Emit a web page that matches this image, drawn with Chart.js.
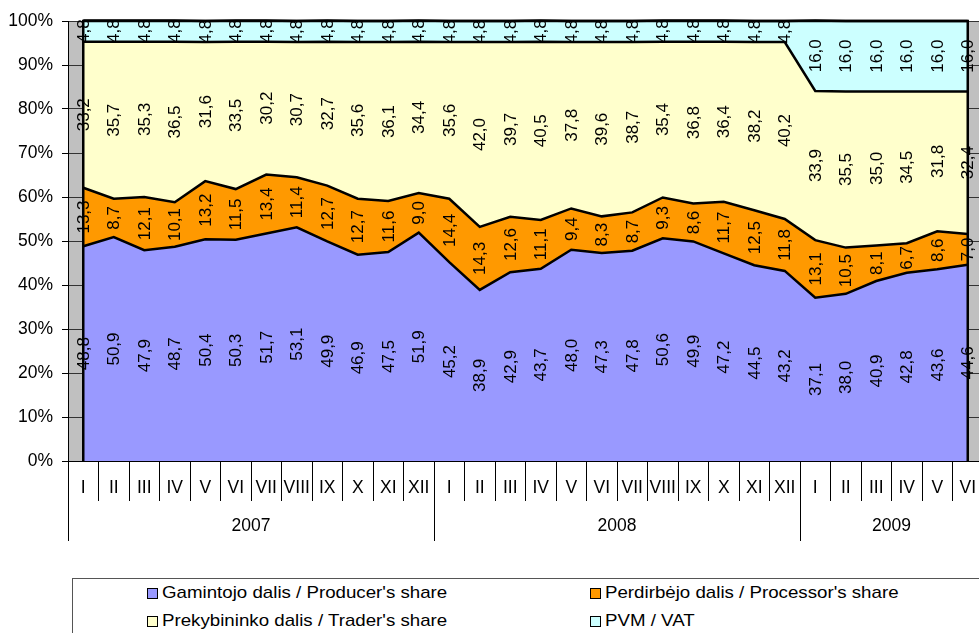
<!DOCTYPE html>
<html><head><meta charset="utf-8">
<script src="https://cdn.jsdelivr.net/npm/chart.js@4"></script>
<style>
html,body{margin:0;padding:0;background:#fff;overflow:hidden;}
#wrap{position:relative;width:979px;height:633px;overflow:hidden;background:#fff;}
#c{position:absolute;left:0;top:0;}
#legend{position:absolute;left:72px;top:578px;width:940px;height:60px;border:1px solid #555;box-sizing:border-box;font-family:"Liberation Sans",Arial,sans-serif;font-size:17px;color:#000;}
.item{position:absolute;height:20px;display:flex;align-items:center;white-space:nowrap;}
.sw{width:9px;height:9px;border:1.5px solid #000;margin-right:4px;flex:none;}
.tx{display:inline-block;transform:scaleX(1.1);transform-origin:0 50%;}
</style></head><body>
<div id="wrap"><canvas id="c" width="995" height="560"></canvas><div id="legend"></div></div>
<script>
const months = ['I','II','III','IV','V','VI','VII','VIII','IX','X','XI','XII',
                'I','II','III','IV','V','VI','VII','VIII','IX','X','XI','XII',
                'I','II','III','IV','V','VI'];
const years = ['2007','2008','2009'];
const monthsPerYear = [12,12,6];
const yTicks = [0,10,20,30,40,50,60,70,80,90,100];
const seriesNames = ["Gamintojo dalis / Producer's share","Perdirbėjo dalis / Processor's share","Prekybininko dalis / Trader's share","PVM / VAT"];
const producer = [48.8,50.9,47.9,48.7,50.4,50.3,51.7,53.1,49.9,46.9,47.5,51.9,
                  45.2,38.9,42.9,43.7,48.0,47.3,47.8,50.6,49.9,47.2,44.5,43.2,
                  37.1,38.0,40.9,42.8,43.6,44.6];
const processor = [13.3,8.7,12.1,10.1,13.2,11.5,13.4,11.4,12.7,12.7,11.6,9.0,
                   14.4,14.3,12.6,11.1,9.4,8.3,8.7,9.3,8.6,11.7,12.5,11.8,
                   13.1,10.5,8.1,6.7,8.6,7.0];
const trader = [33.2,35.7,35.3,36.5,31.6,33.5,30.2,30.7,32.7,35.6,36.1,34.4,
                35.6,42.0,39.7,40.5,37.8,39.6,38.7,35.4,36.8,36.4,38.2,40.2,
                33.9,35.5,35.0,34.5,31.8,32.4];
const vat = [4.8,4.8,4.8,4.8,4.8,4.8,4.8,4.8,4.8,4.8,4.8,4.8,
             4.8,4.8,4.8,4.8,4.8,4.8,4.8,4.8,4.8,4.8,4.8,4.8,
             16.0,16.0,16.0,16.0,16.0,16.0];

const seriesData = [producer, processor, trader, vat];
const colors = ['#9999FF','#FF9900','#FFFFCC','#CCFFFF'];
const FONT = '"Liberation Sans", Arial, sans-serif';

// year axis tick positions (boundaries + centers) from monthsPerYear
const yearBounds = [-0.5];
const yearCenters = [];
monthsPerYear.forEach(n => {
  const start = yearBounds[yearBounds.length-1];
  yearCenters.push(start + n/2);
  yearBounds.push(start + n);
});
const x2Ticks = [...yearBounds, ...yearCenters].sort((a,b)=>a-b);

const bgPlugin = {
  id: 'plotBg',
  beforeDraw(chart) {
    const a = chart.chartArea, ctx = chart.ctx;
    ctx.save();
    ctx.fillStyle = '#C0C0C0';
    ctx.fillRect(a.left, a.top, a.right - a.left, a.bottom - a.top);
    ctx.restore();
  }
};

const labelPlugin = {
  id: 'valLabels',
  afterDatasetsDraw(chart) {
    const ctx = chart.ctx, ys = chart.scales.y;
    const m0 = chart.getDatasetMeta(0).data;
    const n = m0.length;
    // outline edges of the area block (left, right, top)
    ctx.save();
    ctx.strokeStyle = '#000';
    ctx.lineWidth = 2.5;
    ctx.beginPath();
    ctx.moveTo(m0[0].x, ys.getPixelForValue(0));
    ctx.lineTo(m0[0].x, ys.getPixelForValue(100));
    ctx.lineTo(m0[n-1].x, ys.getPixelForValue(100));
    ctx.lineTo(m0[n-1].x, ys.getPixelForValue(0));
    ctx.stroke();
    ctx.restore();
    ctx.save();
    ctx.fillStyle = '#000';
    ctx.font = '17px ' + FONT;
    ctx.textAlign = 'center';
    ctx.textBaseline = 'middle';
    for (let j = 0; j < n; j++) {
      let cum = 0;
      seriesData.forEach((arr) => {
        const v = arr[j];
        const yc = (ys.getPixelForValue(cum) + ys.getPixelForValue(cum + v)) / 2;
        cum += v;
        ctx.save();
        ctx.translate(m0[j].x, yc);
        ctx.rotate(-Math.PI/2);
        ctx.fillText(v.toFixed(1).replace('.', ','), 0, 1);
        ctx.restore();
      });
    }
    ctx.restore();
  }
};

const chart = new Chart(document.getElementById('c'), {
  type: 'line',
  data: {
    labels: months,
    datasets: seriesData.map((d, i) => ({
      label: seriesNames[i],
      data: d,
      backgroundColor: colors[i],
      borderColor: '#000',
      borderWidth: 2.5,
      pointRadius: 0,
      tension: 0,
      clip: 4,
      fill: i === 0 ? 'origin' : '-1'
    }))
  },
  options: {
    responsive: false,
    animation: false,
    devicePixelRatio: 1,
    layout: { padding: { top: 21, right: 12, left: 0, bottom: 0 } },
    plugins: { legend: { display: false }, tooltip: { enabled: false } },
    scales: {
      x: {
        type: 'category',
        offset: true,
        grid: { display: true, drawOnChartArea: false, drawTicks: true, tickLength: 40, offset: true, color: '#000', lineWidth: 1 },
        border: { display: true, color: '#000', width: 1, z: 1 },
        ticks: { padding: -23, autoSkip: false, maxRotation: 0, minRotation: 0, color: '#000', font: { family: FONT, size: 17.5 } },
        afterFit: s => { s.height = 40; }
      },
      x2: {
        type: 'linear',
        position: 'bottom',
        weight: 1,
        bounds: 'data',
        min: -0.5,
        max: months.length - 0.5,
        afterBuildTicks: s => { s.ticks = x2Ticks.map(v => ({ value: v })); },
        grid: {
          display: true, drawOnChartArea: false, drawTicks: true, tickLength: 40, lineWidth: 1,
          color: c => (c.tick && yearCenters.includes(c.tick.value)) ? 'rgba(0,0,0,0)' : '#000'
        },
        border: { display: false },
        ticks: {
          padding: -25.5, autoSkip: false, maxRotation: 0, minRotation: 0, color: '#000',
          font: { family: FONT, size: 17.5 },
          callback: v => { const k = yearCenters.indexOf(v); return k >= 0 ? years[k] : ''; }
        },
        afterFit: s => { s.height = 59; }
      },
      y: {
        stacked: true,
        min: 0,
        max: 100,
        afterBuildTicks: s => { s.ticks = yTicks.map(v => ({ value: v })); },
        grid: { drawOnChartArea: true, drawTicks: true, tickLength: 6, color: '#333', tickColor: '#000' },
        border: { display: true, color: '#000', width: 1, z: 1 },
        ticks: { padding: 9, color: '#000', font: { family: FONT, size: 17.5 }, callback: v => v + '%' },
        afterFit: s => { s.width = 68; }
      }
    }
  },
  plugins: [bgPlugin, labelPlugin]
});

// HTML legend built from series names and colours
const legend = document.getElementById('legend');
const pos = [[74,4],[517,4],[74,32],[517,32]];
seriesNames.forEach((name, i) => {
  const it = document.createElement('div');
  it.className = 'item';
  it.style.left = pos[i][0] + 'px';
  it.style.top = pos[i][1] + 'px';
  const sw = document.createElement('span');
  sw.className = 'sw';
  sw.style.background = colors[i];
  const t = document.createElement('span');
  t.className = 'tx';
  t.textContent = name;
  it.appendChild(sw); it.appendChild(t);
  legend.appendChild(it);
});
</script>
</body></html>
